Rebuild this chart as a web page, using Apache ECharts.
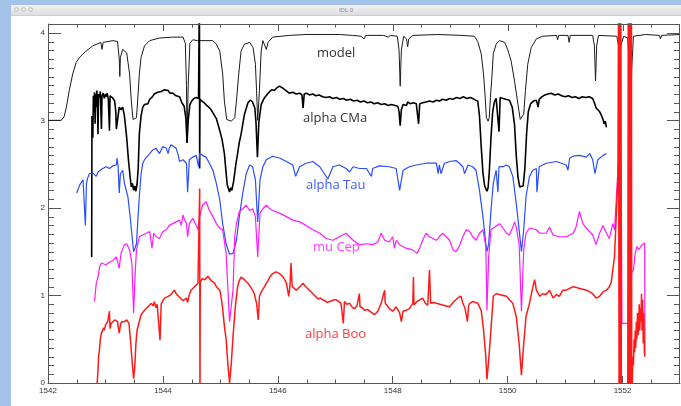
<!DOCTYPE html>
<html>
<head>
<meta charset="utf-8">
<script src="https://cdn.jsdelivr.net/npm/echarts@6/dist/echarts.min.js"></script>
<style>
  html, body { margin: 0; padding: 0; background: #fff; }
  #wrap { position: relative; width: 681px; height: 406px; overflow: hidden; }
  #chart { position: absolute; left: 0; top: 0; width: 681px; height: 406px; }
  .chrome { position: absolute; background: #a3c3ea; pointer-events: none; }
  #titlebar { position: absolute; left: 11px; top: 5px; width: 670px; height: 10px; pointer-events: none;
    background: linear-gradient(#f2f2f2, #dedede); border-bottom: 1px solid #cfcfcf;
    font: 6px "Liberation Sans", sans-serif; color: #888; text-align: center; line-height: 10px; }
  .dot { position: absolute; top: 2px; width: 5px; height: 5px; border-radius: 50%;
    background: #e6e6e6; border: 1px solid #c2c2c2; box-sizing: border-box; }
</style>
</head>
<body>
<div id="wrap">
  <div id="chart"></div>
  <div class="chrome" style="left:0;top:0;width:11px;height:406px"></div>
  <div class="chrome" style="left:0;top:0;width:681px;height:5px"></div>
  <div id="titlebar">IDL 0
    <span class="dot" style="left:3px"></span><span class="dot" style="left:10px"></span><span class="dot" style="left:17px"></span>
  </div>
</div>
<script>
  // spectra: [wavelength, flux + offset]
  const model = [
    [1542.00, 3.00], [1542.23, 3.00], [1542.28, 3.04], [1542.32, 3.15], [1542.37, 3.34], [1542.43, 3.53],
    [1542.49, 3.66], [1542.55, 3.72], [1542.66, 3.79], [1542.78, 3.85], [1542.92, 3.89], [1542.94, 3.81],
    [1542.96, 3.89], [1543.13, 3.91], [1543.21, 3.90], [1543.24, 3.70], [1543.25, 3.50], [1543.26, 3.72],
    [1543.30, 3.81], [1543.37, 3.77], [1543.42, 3.53], [1543.45, 3.22], [1543.48, 3.01], [1543.51, 2.99],
    [1543.54, 3.03], [1543.56, 3.22], [1543.59, 3.53], [1543.62, 3.72], [1543.68, 3.85], [1543.77, 3.91],
    [1543.94, 3.94], [1544.17, 3.95], [1544.35, 3.95], [1544.39, 3.88], [1544.41, 3.40], [1544.42, 2.75],
    [1544.44, 3.40], [1544.47, 3.88], [1544.52, 3.92], [1544.60, 3.91], [1544.75, 3.91], [1544.87, 3.91],
    [1544.93, 3.87], [1544.99, 3.79], [1545.04, 3.53], [1545.07, 3.22], [1545.11, 3.01], [1545.19, 2.99],
    [1545.25, 3.03], [1545.28, 3.22], [1545.32, 3.53], [1545.36, 3.79], [1545.42, 3.87], [1545.51, 3.89],
    [1545.57, 3.83], [1545.61, 3.64], [1545.63, 3.34], [1545.65, 3.00], [1545.68, 3.34], [1545.71, 3.79],
    [1545.74, 3.91], [1545.80, 3.81], [1545.83, 3.89], [1545.91, 3.95], [1546.20, 3.97], [1546.49, 3.98],
    [1547.07, 3.98], [1547.30, 3.97], [1547.45, 3.96], [1547.50, 3.93], [1547.53, 3.97], [1547.84, 3.97],
    [1547.92, 3.95], [1547.96, 3.97], [1548.08, 3.96], [1548.11, 3.80], [1548.13, 3.39], [1548.15, 3.80],
    [1548.19, 3.96], [1548.24, 3.93], [1548.26, 3.84], [1548.28, 3.93], [1548.35, 3.97], [1548.80, 3.98],
    [1549.20, 3.97], [1549.42, 3.96], [1549.48, 3.90], [1549.54, 3.76], [1549.58, 3.53], [1549.61, 3.26],
    [1549.63, 3.03], [1549.66, 2.99], [1549.68, 3.03], [1549.70, 3.26], [1549.73, 3.53], [1549.75, 3.76],
    [1549.80, 3.87], [1549.86, 3.91], [1549.95, 3.89], [1550.00, 3.81], [1550.06, 3.68], [1550.12, 3.45],
    [1550.18, 3.18], [1550.22, 3.01], [1550.25, 2.99], [1550.28, 3.07], [1550.31, 3.34], [1550.35, 3.64],
    [1550.41, 3.83], [1550.50, 3.93], [1550.61, 3.96], [1550.85, 3.97], [1550.87, 3.92], [1550.89, 3.97],
    [1551.05, 3.97], [1551.07, 3.89], [1551.09, 3.97], [1551.48, 3.97], [1551.51, 3.85], [1551.53, 3.45],
    [1551.55, 3.85], [1551.58, 3.97], [1551.90, 3.96], [1551.93, 3.85], [1551.95, 3.57], [1551.97, 3.85],
    [1552.02, 3.96], [1552.09, 3.94], [1552.12, 3.60], [1552.14, 3.10], [1552.16, 3.60], [1552.19, 3.96],
    [1552.40, 3.98], [1552.64, 3.97], [1552.66, 3.93], [1552.68, 3.97], [1553.00, 3.98]
  ];

  const alphaCMa = [
    [1542.76, 1.44], [1542.765, 3.05], [1542.78, 2.80], [1542.79, 3.28], [1542.80, 3.10], [1542.81, 3.32],
    [1542.82, 2.96], [1542.83, 3.30], [1542.84, 3.15], [1542.85, 3.34], [1542.86, 3.22], [1542.87, 2.84],
    [1542.88, 3.30], [1542.90, 3.26], [1542.91, 3.33], [1542.93, 2.90], [1542.94, 3.28], [1542.96, 3.31],
    [1542.98, 3.25], [1543.00, 3.30], [1543.01, 3.27], [1543.03, 3.31], [1543.05, 3.24], [1543.07, 2.88],
    [1543.08, 3.28], [1543.10, 3.30], [1543.12, 3.26], [1543.14, 3.28], [1543.16, 3.22], [1543.18, 3.10],
    [1543.19, 2.90], [1543.20, 2.88], [1543.22, 3.05], [1543.24, 3.15], [1543.27, 3.12], [1543.30, 3.15],
    [1543.33, 3.05], [1543.37, 2.80], [1543.40, 2.55], [1543.43, 2.35], [1543.45, 2.24], [1543.47, 2.28],
    [1543.49, 2.20], [1543.51, 2.25], [1543.53, 2.19], [1543.55, 2.27], [1543.57, 2.45], [1543.59, 2.85],
    [1543.62, 3.05], [1543.65, 3.15], [1543.68, 3.18], [1543.71, 3.20], [1543.74, 3.19], [1543.77, 3.24],
    [1543.80, 3.26], [1543.82, 3.27], [1543.85, 3.30], [1543.88, 3.28], [1543.91, 3.32], [1543.94, 3.31],
    [1543.97, 3.33], [1544.00, 3.32], [1544.03, 3.35], [1544.06, 3.33], [1544.09, 3.34], [1544.12, 3.31],
    [1544.15, 3.32], [1544.17, 3.31], [1544.20, 3.29], [1544.23, 3.28], [1544.26, 3.26], [1544.29, 3.27],
    [1544.33, 3.20], [1544.37, 3.16], [1544.40, 3.02], [1544.42, 2.74], [1544.44, 3.00], [1544.47, 3.18],
    [1544.50, 3.22], [1544.54, 3.25], [1544.58, 3.26], [1544.62, 3.25], [1544.635, 4.50], [1544.64, 2.45],
    [1544.645, 3.24], [1544.68, 3.22], [1544.72, 3.20], [1544.76, 3.17], [1544.80, 3.15], [1544.84, 3.12],
    [1544.87, 3.11], [1544.93, 3.02], [1544.99, 2.88], [1545.03, 2.78], [1545.07, 2.62], [1545.10, 2.40],
    [1545.12, 2.26], [1545.14, 2.22], [1545.16, 2.18], [1545.18, 2.23], [1545.20, 2.20], [1545.23, 2.30],
    [1545.27, 2.50], [1545.30, 2.62], [1545.33, 2.75], [1545.36, 2.84], [1545.42, 3.07], [1545.48, 3.20],
    [1545.52, 3.23], [1545.56, 3.21], [1545.60, 3.14], [1545.62, 2.98], [1545.645, 2.58], [1545.67, 2.98],
    [1545.71, 3.18], [1545.76, 3.25], [1545.82, 3.30], [1545.86, 3.33], [1545.90, 3.35], [1545.94, 3.34],
    [1545.98, 3.37], [1546.03, 3.39], [1546.08, 3.37], [1546.12, 3.35], [1546.15, 3.34], [1546.20, 3.31],
    [1546.26, 3.32], [1546.32, 3.30], [1546.38, 3.31], [1546.42, 3.29], [1546.44, 3.14], [1546.46, 3.30],
    [1546.50, 3.31], [1546.55, 3.29], [1546.61, 3.30], [1546.66, 3.28], [1546.72, 3.29], [1546.78, 3.27],
    [1546.84, 3.26], [1546.90, 3.27], [1546.96, 3.25], [1547.02, 3.26], [1547.08, 3.24], [1547.14, 3.25],
    [1547.20, 3.23], [1547.26, 3.24], [1547.32, 3.22], [1547.38, 3.23], [1547.44, 3.21], [1547.50, 3.22],
    [1547.56, 3.20], [1547.62, 3.21], [1547.68, 3.19], [1547.74, 3.20], [1547.80, 3.18], [1547.86, 3.19],
    [1547.92, 3.17], [1547.98, 3.18], [1548.04, 3.17], [1548.09, 3.16], [1548.11, 3.10], [1548.13, 2.94],
    [1548.15, 3.12], [1548.18, 3.18], [1548.21, 3.20], [1548.24, 3.17], [1548.26, 3.21], [1548.30, 3.19],
    [1548.36, 3.20], [1548.41, 3.19], [1548.44, 3.18], [1548.45, 2.96], [1548.47, 3.19], [1548.52, 3.20],
    [1548.58, 3.21], [1548.64, 3.22], [1548.70, 3.21], [1548.76, 3.23], [1548.81, 3.22], [1548.87, 3.24],
    [1548.93, 3.23], [1548.99, 3.25], [1549.05, 3.24], [1549.11, 3.26], [1549.17, 3.25], [1549.23, 3.27],
    [1549.29, 3.25], [1549.35, 3.26], [1549.39, 3.25], [1549.44, 3.23], [1549.48, 3.22], [1549.51, 3.05],
    [1549.54, 2.70], [1549.57, 2.40], [1549.60, 2.25], [1549.62, 2.22], [1549.64, 2.19], [1549.66, 2.23],
    [1549.68, 2.40], [1549.71, 2.80], [1549.74, 3.10], [1549.77, 3.21], [1549.80, 3.25], [1549.83, 3.24],
    [1549.85, 2.87], [1549.87, 3.26], [1549.92, 3.25], [1549.97, 3.24], [1550.03, 3.23], [1550.08, 3.15],
    [1550.12, 2.95], [1550.15, 2.60], [1550.18, 2.35], [1550.21, 2.24], [1550.24, 2.22], [1550.27, 2.25],
    [1550.30, 2.45], [1550.33, 2.85], [1550.36, 3.10], [1550.40, 3.19], [1550.45, 3.22], [1550.50, 3.23],
    [1550.53, 3.15], [1550.55, 3.24], [1550.60, 3.27], [1550.65, 3.29], [1550.70, 3.30], [1550.76, 3.31],
    [1550.82, 3.29], [1550.88, 3.30], [1550.94, 3.28], [1551.00, 3.27], [1551.06, 3.28], [1551.12, 3.26],
    [1551.18, 3.27], [1551.24, 3.25], [1551.30, 3.27], [1551.36, 3.26], [1551.42, 3.27], [1551.48, 3.25],
    [1551.51, 3.20], [1551.54, 3.14], [1551.57, 3.15], [1551.60, 3.10], [1551.63, 3.06], [1551.66, 3.01],
    [1551.68, 2.96], [1551.70, 2.99], [1551.72, 2.92]
  ];

  const alphaTau = [
    [1542.50, 2.17], [1542.55, 2.26], [1542.61, 2.32], [1542.64, 2.30], [1542.65, 1.80], [1542.67, 2.28],
    [1542.69, 2.34], [1542.72, 2.39], [1542.78, 2.40], [1542.84, 2.36], [1542.87, 2.41], [1542.93, 2.44],
    [1543.01, 2.47], [1543.07, 2.45], [1543.13, 2.48], [1543.19, 2.49], [1543.20, 2.57], [1543.22, 2.48],
    [1543.24, 2.17], [1543.26, 2.39], [1543.30, 2.43], [1543.33, 2.28], [1543.39, 2.13], [1543.43, 1.90],
    [1543.47, 1.63], [1543.49, 1.50], [1543.52, 1.55], [1543.54, 1.59], [1543.56, 1.82], [1543.59, 2.13],
    [1543.62, 2.39], [1543.65, 2.51], [1543.68, 2.55], [1543.71, 2.57], [1543.77, 2.62], [1543.82, 2.66],
    [1543.88, 2.68], [1543.94, 2.62], [1543.97, 2.66], [1544.00, 2.70], [1544.06, 2.68], [1544.09, 2.62],
    [1544.11, 2.68], [1544.14, 2.72], [1544.17, 2.74], [1544.23, 2.68], [1544.26, 2.62], [1544.29, 2.53],
    [1544.35, 2.55], [1544.41, 2.51], [1544.43, 2.18], [1544.46, 2.55], [1544.52, 2.58], [1544.58, 2.60],
    [1544.62, 2.47], [1544.64, 2.62], [1544.69, 2.60], [1544.75, 2.58], [1544.81, 2.51], [1544.87, 2.43],
    [1544.93, 2.28], [1544.99, 2.09], [1545.04, 1.82], [1545.10, 1.59], [1545.16, 1.47], [1545.22, 1.48],
    [1545.28, 1.63], [1545.33, 1.90], [1545.39, 2.17], [1545.45, 2.39], [1545.51, 2.49], [1545.56, 2.47],
    [1545.61, 2.32], [1545.65, 1.84], [1545.69, 2.32], [1545.74, 2.47], [1545.80, 2.55], [1545.91, 2.59],
    [1546.03, 2.57], [1546.15, 2.53], [1546.26, 2.49], [1546.31, 2.36], [1546.38, 2.47], [1546.49, 2.51],
    [1546.61, 2.53], [1546.73, 2.47], [1546.87, 2.33], [1546.96, 2.47], [1547.07, 2.49], [1547.19, 2.45],
    [1547.25, 2.41], [1547.31, 2.47], [1547.42, 2.45], [1547.54, 2.45], [1547.63, 2.36], [1547.65, 2.45],
    [1547.77, 2.48], [1547.94, 2.47], [1548.06, 2.45], [1548.12, 2.20], [1548.18, 2.43], [1548.29, 2.47],
    [1548.41, 2.49], [1548.58, 2.51], [1548.76, 2.51], [1548.79, 2.39], [1548.81, 2.49], [1548.84, 2.39],
    [1548.90, 2.51], [1548.99, 2.53], [1549.10, 2.54], [1549.16, 2.51], [1549.22, 2.47], [1549.25, 2.39],
    [1549.31, 2.49], [1549.39, 2.47], [1549.45, 2.43], [1549.51, 2.20], [1549.57, 1.90], [1549.62, 1.59],
    [1549.64, 1.50], [1549.67, 1.59], [1549.71, 1.97], [1549.75, 2.28], [1549.80, 2.43], [1549.83, 2.18],
    [1549.85, 2.47], [1549.92, 2.47], [1549.98, 2.49], [1550.03, 2.47], [1550.09, 2.36], [1550.15, 2.05],
    [1550.20, 1.75], [1550.24, 1.50], [1550.28, 1.75], [1550.32, 2.13], [1550.38, 2.36], [1550.44, 2.43],
    [1550.50, 2.45], [1550.51, 2.18], [1550.55, 2.47], [1550.67, 2.51], [1550.85, 2.53], [1551.02, 2.49],
    [1551.05, 2.43], [1551.08, 2.57], [1551.14, 2.59], [1551.25, 2.60], [1551.37, 2.58], [1551.43, 2.62],
    [1551.48, 2.55], [1551.52, 2.39], [1551.57, 2.55], [1551.66, 2.60], [1551.72, 2.62]
  ];

  const muCep = [
    [1542.81, 0.93], [1542.84, 1.14], [1542.87, 1.21], [1542.90, 1.33], [1542.93, 1.37], [1543.01, 1.35],
    [1543.07, 1.38], [1543.13, 1.40], [1543.19, 1.44], [1543.22, 1.44], [1543.24, 1.31], [1543.27, 1.48],
    [1543.33, 1.58], [1543.37, 1.59], [1543.42, 1.52], [1543.46, 1.37], [1543.49, 0.80], [1543.52, 1.29],
    [1543.54, 1.52], [1543.59, 1.67], [1543.65, 1.69], [1543.71, 1.71], [1543.77, 1.73], [1543.80, 1.75],
    [1543.81, 1.54], [1543.84, 1.71], [1543.88, 1.67], [1543.94, 1.65], [1544.00, 1.73], [1544.06, 1.75],
    [1544.11, 1.80], [1544.17, 1.82], [1544.23, 1.84], [1544.29, 1.86], [1544.32, 1.80], [1544.35, 1.92],
    [1544.38, 1.86], [1544.41, 1.82], [1544.43, 1.67], [1544.46, 1.82], [1544.52, 1.88], [1544.58, 1.80],
    [1544.61, 1.75], [1544.64, 1.90], [1544.66, 1.96], [1544.69, 2.03], [1544.75, 2.07], [1544.78, 2.05],
    [1544.81, 1.97], [1544.87, 1.90], [1544.93, 1.82], [1544.99, 1.77], [1545.04, 1.75], [1545.10, 1.48],
    [1545.16, 0.70], [1545.22, 1.06], [1545.25, 1.67], [1545.28, 1.82], [1545.33, 1.96], [1545.39, 1.99],
    [1545.45, 2.03], [1545.51, 1.97], [1545.56, 1.99], [1545.61, 1.90], [1545.65, 1.44], [1545.69, 1.94],
    [1545.74, 1.99], [1545.80, 2.03], [1545.86, 1.99], [1545.91, 1.97], [1546.03, 1.94], [1546.15, 1.90],
    [1546.26, 1.86], [1546.38, 1.84], [1546.49, 1.80], [1546.61, 1.75], [1546.73, 1.71], [1546.84, 1.65],
    [1546.96, 1.63], [1547.07, 1.67], [1547.19, 1.71], [1547.31, 1.63], [1547.42, 1.58], [1547.54, 1.59],
    [1547.65, 1.58], [1547.74, 1.61], [1547.80, 1.71], [1547.86, 1.63], [1547.94, 1.61], [1548.00, 1.67],
    [1548.03, 1.54], [1548.06, 1.63], [1548.12, 1.58], [1548.23, 1.54], [1548.35, 1.52], [1548.42, 1.48],
    [1548.47, 1.54], [1548.52, 1.63], [1548.58, 1.71], [1548.64, 1.67], [1548.76, 1.63], [1548.81, 1.67],
    [1548.87, 1.71], [1548.99, 1.63], [1549.05, 1.52], [1549.10, 1.50], [1549.16, 1.56], [1549.22, 1.67],
    [1549.28, 1.75], [1549.34, 1.73], [1549.39, 1.67], [1549.45, 1.63], [1549.51, 1.71], [1549.57, 1.75],
    [1549.62, 1.56], [1549.64, 0.83], [1549.67, 1.44], [1549.71, 1.75], [1549.77, 1.78], [1549.80, 1.80],
    [1549.86, 1.82], [1549.92, 1.77], [1549.98, 1.71], [1550.03, 1.69], [1550.09, 1.78], [1550.12, 1.84],
    [1550.15, 1.78], [1550.20, 1.59], [1550.24, 0.82], [1550.28, 1.52], [1550.32, 1.71], [1550.38, 1.77],
    [1550.50, 1.75], [1550.56, 1.71], [1550.67, 1.71], [1550.73, 1.78], [1550.79, 1.69], [1550.90, 1.67],
    [1551.02, 1.67], [1551.14, 1.71], [1551.19, 1.78], [1551.25, 1.96], [1551.31, 1.82], [1551.37, 1.77],
    [1551.48, 1.69], [1551.54, 1.58], [1551.60, 1.71], [1551.66, 1.80], [1551.72, 1.71], [1551.77, 1.65],
    [1551.83, 1.82], [1551.86, 1.75], [1551.89, 2.09], [1551.92, 2.43], [1551.95, 2.66], [1551.96, 4.50],
    [1551.985, 4.50], [1551.99, 0.68], [1552.11, 0.68], [1552.115, 4.50], [1552.13, 4.50], [1552.15, 1.25],
    [1552.19, 1.29], [1552.22, 1.48], [1552.25, 1.56], [1552.28, 1.52], [1552.31, 1.55], [1552.34, 1.58],
    [1552.37, 1.56], [1552.385, 1.60], [1552.39, 0.34]
  ];

  const alphaBoo = [
    [1542.85, -0.05], [1542.87, 0.14], [1542.88, 0.30], [1542.90, 0.41], [1542.91, 0.50], [1542.93, 0.57],
    [1542.94, 0.55], [1542.95, 0.59], [1542.97, 0.63], [1542.98, 0.60], [1543.00, 0.66], [1543.01, 0.68],
    [1543.03, 0.65], [1543.04, 0.70], [1543.06, 0.72], [1543.07, 0.82], [1543.08, 0.62], [1543.10, 0.68],
    [1543.13, 0.70], [1543.16, 0.72], [1543.19, 0.73], [1543.21, 0.70], [1543.22, 0.65], [1543.24, 0.57],
    [1543.26, 0.66], [1543.28, 0.70], [1543.30, 0.72], [1543.33, 0.70], [1543.37, 0.72], [1543.41, 0.68],
    [1543.44, 0.45], [1543.47, 0.20], [1543.49, 0.05], [1543.51, 0.18], [1543.53, 0.45], [1543.55, 0.60],
    [1543.58, 0.68], [1543.62, 0.78], [1543.65, 0.80], [1543.68, 0.83], [1543.71, 0.81], [1543.74, 0.87],
    [1543.77, 0.85], [1543.80, 0.91], [1543.83, 0.88], [1543.85, 0.93], [1543.88, 0.86], [1543.90, 0.90],
    [1543.93, 0.91], [1543.95, 0.49], [1543.97, 0.90], [1544.00, 0.94], [1544.03, 0.97], [1544.06, 0.95],
    [1544.09, 0.99], [1544.12, 0.97], [1544.14, 1.01], [1544.17, 1.03], [1544.20, 1.06], [1544.23, 1.02],
    [1544.26, 1.03], [1544.29, 0.98], [1544.32, 0.99], [1544.35, 0.94], [1544.38, 0.95], [1544.41, 0.97],
    [1544.43, 0.92], [1544.46, 1.01], [1544.49, 1.06], [1544.52, 1.04], [1544.55, 1.10], [1544.58, 1.12],
    [1544.61, 1.14], [1544.63, 1.16], [1544.64, 2.22], [1544.645, -0.20], [1544.65, 1.15], [1544.68, 1.19],
    [1544.70, 1.21], [1544.73, 1.18], [1544.75, 1.20], [1544.78, 1.22], [1544.81, 1.21], [1544.84, 1.17],
    [1544.87, 1.18], [1544.90, 1.14], [1544.93, 1.10], [1544.96, 1.08], [1544.99, 1.06], [1545.02, 0.95],
    [1545.04, 0.85], [1545.07, 0.65], [1545.10, 0.50], [1545.13, 0.22], [1545.16, 0.00], [1545.19, 0.22],
    [1545.22, 0.53], [1545.26, 0.87], [1545.30, 1.10], [1545.33, 1.17], [1545.36, 1.21], [1545.39, 1.19],
    [1545.42, 1.18], [1545.45, 1.16], [1545.48, 1.14], [1545.51, 1.12], [1545.54, 1.08], [1545.57, 1.05],
    [1545.59, 1.02], [1545.63, 0.91], [1545.66, 0.72], [1545.68, 0.99], [1545.71, 1.04], [1545.74, 1.06],
    [1545.77, 1.10], [1545.80, 1.14], [1545.83, 1.17], [1545.86, 1.21], [1545.89, 1.23], [1545.91, 1.25],
    [1545.94, 1.24], [1545.97, 1.27], [1546.00, 1.26], [1546.03, 1.25], [1546.06, 1.23], [1546.09, 1.21],
    [1546.12, 1.18], [1546.15, 1.14], [1546.17, 1.15], [1546.19, 0.99], [1546.21, 1.10], [1546.23, 1.37],
    [1546.25, 1.10], [1546.28, 1.08], [1546.32, 1.06], [1546.35, 1.08], [1546.38, 1.10], [1546.41, 1.12],
    [1546.44, 1.14], [1546.47, 1.11], [1546.49, 1.10], [1546.52, 1.08], [1546.55, 1.06], [1546.58, 1.04],
    [1546.61, 1.02], [1546.64, 1.00], [1546.67, 0.99], [1546.70, 0.96], [1546.74, 0.97], [1546.78, 0.95],
    [1546.82, 0.94], [1546.86, 0.92], [1546.90, 0.93], [1546.94, 0.94], [1546.98, 0.95], [1547.02, 0.95],
    [1547.06, 0.93], [1547.10, 0.91], [1547.14, 0.68], [1547.16, 0.93], [1547.20, 0.90], [1547.25, 0.91],
    [1547.30, 0.86], [1547.34, 0.85], [1547.38, 0.89], [1547.42, 1.02], [1547.43, 0.87], [1547.47, 0.86],
    [1547.51, 0.83], [1547.56, 0.84], [1547.60, 0.82], [1547.64, 0.80], [1547.68, 0.78], [1547.74, 0.82],
    [1547.80, 0.91], [1547.83, 0.99], [1547.86, 1.06], [1547.87, 0.91], [1547.89, 0.91], [1547.94, 0.85],
    [1548.00, 0.82], [1548.06, 0.87], [1548.12, 0.80], [1548.15, 0.70], [1548.18, 0.82], [1548.23, 0.83],
    [1548.29, 0.85], [1548.35, 0.91], [1548.36, 1.21], [1548.37, 0.89], [1548.42, 0.93], [1548.47, 0.95],
    [1548.52, 0.97], [1548.57, 0.91], [1548.61, 0.89], [1548.64, 1.29], [1548.66, 0.91], [1548.71, 0.92],
    [1548.76, 0.91], [1548.82, 0.90], [1548.87, 0.89], [1548.93, 0.88], [1548.99, 0.87], [1549.05, 0.92],
    [1549.10, 0.95], [1549.15, 0.98], [1549.19, 0.99], [1549.22, 0.91], [1549.26, 0.85], [1549.30, 0.70],
    [1549.32, 0.88], [1549.34, 0.91], [1549.39, 0.93], [1549.44, 0.92], [1549.48, 0.91], [1549.54, 0.83],
    [1549.58, 0.61], [1549.62, 0.30], [1549.64, 0.04], [1549.67, 0.26], [1549.71, 0.61], [1549.75, 0.99],
    [1549.80, 1.02], [1549.86, 1.01], [1549.92, 1.00], [1549.98, 0.99], [1550.03, 0.95], [1550.09, 0.91],
    [1550.15, 0.76], [1550.20, 0.45], [1550.24, 0.09], [1550.28, 0.45], [1550.32, 0.76], [1550.38, 0.91],
    [1550.44, 1.10], [1550.47, 1.18], [1550.50, 1.06], [1550.56, 0.99], [1550.61, 1.02], [1550.67, 1.01],
    [1550.73, 1.06], [1550.79, 0.97], [1550.85, 1.01], [1550.90, 0.99], [1550.96, 1.06], [1551.02, 1.06],
    [1551.08, 1.08], [1551.14, 1.10], [1551.20, 1.09], [1551.25, 1.08], [1551.31, 1.07], [1551.37, 1.06],
    [1551.43, 1.04], [1551.48, 1.02], [1551.54, 0.97], [1551.60, 0.99], [1551.66, 1.04], [1551.72, 1.06],
    [1551.77, 1.10], [1551.80, 1.14], [1551.83, 1.16], [1551.86, 1.44], [1551.89, 1.90], [1551.92, 2.36],
    [1551.93, 4.50], [1551.94, -0.50], [1551.95, 4.50], [1551.96, -0.50], [1551.97, 4.50], [1551.98, -0.50],
    [1552.09, -0.50], [1552.10, 4.50], [1552.105, -0.50], [1552.11, 4.50], [1552.12, -0.50], [1552.125, 4.50],
    [1552.13, -0.50], [1552.14, 4.50], [1552.15, -0.50], [1552.155, 4.50], [1552.16, -0.50], [1552.17, 0.05],
    [1552.18, 0.30], [1552.19, 0.20], [1552.20, 0.50], [1552.21, 0.35], [1552.22, 0.60], [1552.23, 0.40],
    [1552.24, 0.70], [1552.25, 0.50], [1552.26, 0.80], [1552.27, 0.55], [1552.28, 0.62], [1552.29, 0.90],
    [1552.30, 0.60], [1552.31, 0.85], [1552.32, 0.70], [1552.33, 1.02], [1552.34, 0.60], [1552.35, 0.95],
    [1552.36, 0.45], [1552.37, 0.80], [1552.38, 0.35], [1552.39, 0.30]
  ];

  // tick positions of the IDL box axes
  const xMajorTicks = [1542, 1544, 1546, 1548, 1550, 1552];
  const xMinorTicks = [1542.5, 1543, 1543.5, 1544.5, 1545, 1545.5, 1546.5, 1547, 1547.5,
    1548.5, 1549, 1549.5, 1550.5, 1551, 1551.5, 1552.5];
  const yMajorTicks = [0, 1, 2, 3, 4];
  const yMinorTicks = [0.1, 0.2, 0.3, 0.4, 0.5, 0.6, 0.7, 0.8, 0.9,
    1.1, 1.2, 1.3, 1.4, 1.5, 1.6, 1.7, 1.8, 1.9,
    2.1, 2.2, 2.3, 2.4, 2.5, 2.6, 2.7, 2.8, 2.9,
    3.1, 3.2, 3.3, 3.4, 3.5, 3.6, 3.7, 3.8, 3.9, 4.0];

  const seriesNames = ['model', 'alpha CMa', 'alpha Tau', 'mu Cep', 'alpha Boo'];
  const seriesColors = ['#1a1a1a', '#000000', '#2a4dff', '#ff1aff', '#ff1a1a'];
  const seriesWidths = [1, 1.6, 1.2, 1.2, 1.5];
  const labelColors = ['#333333', '#333333', '#3a5cff', '#ff44ff', '#ff4040'];
  const labelLeft = [317, 303, 306, 313, 305];
  const labelTop = [47, 112, 179, 241, 328];

  const xMin = 1542, xMax = 1553;
  const yMin = 0, yMax = 4.1;
  const axisGrey = '#555';

  const chart = echarts.init(document.getElementById('chart'));

  const data = [model, alphaCMa, alphaTau, muCep, alphaBoo];

  const spectra = data.map(function (d, i) {
    return {
      name: seriesNames[i],
      type: 'line',
      data: d,
      showSymbol: false,
      clip: true,
      lineStyle: { color: seriesColors[i], width: seriesWidths[i] },
      z: 2 + i
    };
  });

  // frame items: [value, kind]
  // kind 0/1 top major/minor, 2/3 right major/minor, 6 bottom minor, 7 left minor, 4 top edge, 5 right edge
  const frameItems = []
    .concat(xMajorTicks.map(function (v) { return [v, 0]; }))
    .concat(xMinorTicks.map(function (v) { return [v, 1]; }))
    .concat(yMajorTicks.map(function (v) { return [v, 2]; }))
    .concat(yMinorTicks.map(function (v) { return [v, 3]; }))
    .concat(xMinorTicks.map(function (v) { return [v, 6]; }))
    .concat(yMinorTicks.map(function (v) { return [v, 7]; }))
    .concat([[xMin, 4], [xMax, 5]]);

  function crisp(p) { return Math.round(p) + 0.5; }

  function renderFrame(params, api) {
    const v = api.value(0);
    const kind = api.value(1);
    let x1, y1, x2, y2, p, q;
    if (kind === 0 || kind === 1) {
      p = api.coord([v, yMax]);
      x1 = x2 = crisp(p[0]); y1 = p[1]; y2 = p[1] + (kind === 0 ? 7 : 3.5);
    } else if (kind === 6) {
      p = api.coord([v, yMin]);
      x1 = x2 = crisp(p[0]); y1 = p[1]; y2 = p[1] - 3.5;
    } else if (kind === 2 || kind === 3) {
      p = api.coord([xMax, v]);
      y1 = y2 = crisp(p[1]); x1 = p[0]; x2 = p[0] - (kind === 2 ? 13 : 6);
    } else if (kind === 7) {
      p = api.coord([xMin, v]);
      y1 = y2 = crisp(p[1]); x1 = p[0]; x2 = p[0] + 6;
    } else if (kind === 4) {
      p = api.coord([xMin, yMax]); q = api.coord([xMax, yMax]);
      x1 = p[0]; x2 = q[0]; y1 = y2 = Math.floor(p[1]) + 0.5;
    } else {
      p = api.coord([xMax, yMin]); q = api.coord([xMax, yMax]);
      y1 = p[1]; y2 = q[1]; x1 = x2 = Math.floor(p[0]) - 0.5;
    }
    return {
      type: 'line',
      shape: { x1: x1, y1: y1, x2: x2, y2: y2 },
      style: { stroke: axisGrey, lineWidth: 1 },
      silent: true
    };
  }

  const frame = {
    type: 'custom',
    name: 'frame',
    data: frameItems,
    renderItem: renderFrame,
    clip: false,
    silent: true,
    z: 10
  };

  const option = {
    animation: false,
    title: seriesNames.map(function (n, i) {
      return {
        text: n, left: labelLeft[i], top: labelTop[i], padding: 0,
        textStyle: { color: labelColors[i], fontSize: 13, fontWeight: 'normal', fontFamily: 'Open Sans' }
      };
    }),
    grid: { left: 48, right: 1, top: 24, bottom: 23 },
    xAxis: {
      type: 'value', min: xMin, max: xMax, interval: 2,
      axisLine: { show: true, onZero: false, lineStyle: { color: axisGrey, width: 1 } },
      axisTick: { show: true, inside: true, length: 7, lineStyle: { color: axisGrey } },
      axisLabel: { fontSize: 8, color: '#333', margin: 4, showMaxLabel: false,
        formatter: function (v) { return String(v); } },
      splitLine: { show: false }
    },
    yAxis: {
      type: 'value', min: yMin, max: yMax, interval: 1,
      axisLine: { show: true, onZero: false, lineStyle: { color: axisGrey, width: 1 } },
      axisTick: { show: true, inside: true, length: 13, lineStyle: { color: axisGrey } },
      axisLabel: { fontSize: 8, color: '#333', margin: 3, showMaxLabel: false,
        formatter: function (v) { return String(v); } },
      splitLine: { show: false }
    },
    series: spectra.concat([frame])
  };

  chart.setOption(option);
</script>
</body>
</html>
